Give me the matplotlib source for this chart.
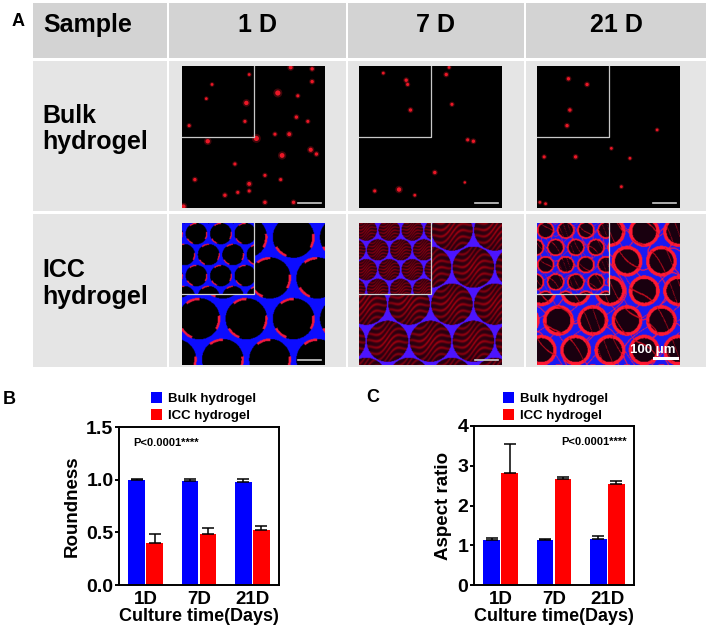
import numpy as np
import matplotlib
matplotlib.use("Agg")
import matplotlib.pyplot as plt
from matplotlib.patches import Rectangle

plt.rcParams['font.family'] = ['Liberation Sans', 'DejaVu Sans']
plt.rcParams['font.weight'] = 'bold'
plt.rcParams['axes.labelweight'] = 'bold'

W, H = 706, 633

# ---- data ----
days = ["1D", "7D", "21D"]
col_titles = ["1 D", "7 D", "21 D"]
row_titles = ["Bulk\nhydrogel", "ICC\nhydrogel"]
series = ["Bulk hydrogel", "ICC hydrogel"]

round_bulk = [1.00, 0.99, 0.98]
round_bulk_err = [0.005, 0.012, 0.03]
round_icc = [0.40, 0.485, 0.52]
round_icc_err = [0.085, 0.057, 0.04]

ar_bulk = [1.13, 1.14, 1.16]
ar_bulk_err = [0.04, 0.02, 0.07]
ar_icc = [2.83, 2.66, 2.53]
ar_icc_err = [0.71, 0.05, 0.09]

# red cell spots in the bulk hydrogel images (fractions of image width/height)
spots_1d_x = [0.67, 0.45, 0.52, 0.18, 0.70, 0.91, 0.91, 0.81, 0.80, 0.88, 0.75, 0.65, 0.90, 0.94,
              0.47, 0.37, 0.58, 0.69, 0.39, 0.30, 0.09, 0.58, 0.78, 0.47, 0.21, 0.44, 0.17, 0.47,
              0.05, 0.76, 0.01]
spots_1d_y = [0.81, 0.74, 0.49, 0.47, 0.37, 0.98, 0.89, 0.79, 0.64, 0.61, 0.52, 0.52, 0.41, 0.38,
              0.17, 0.31, 0.23, 0.20, 0.11, 0.09, 0.20, 0.04, 0.04, 0.12, 0.87, 0.61, 0.77, 0.94,
              0.58, 0.99, 0.01]
spots_1d_s = [14, 10, 14, 10, 12, 6, 6, 5, 6, 5, 8, 5, 9, 6, 8, 5, 5, 5, 5, 6, 6, 6, 6, 5, 4, 5,
              4, 4, 5, 8, 10]
spots_7d_x = [0.33, 0.34, 0.61, 0.63, 0.36, 0.65, 0.17, 0.76, 0.80, 0.53, 0.28, 0.11, 0.39, 0.74]
spots_7d_y = [0.90, 0.87, 0.94, 0.99, 0.69, 0.73, 0.95, 0.48, 0.47, 0.25, 0.13, 0.12, 0.09, 0.18]
spots_7d_s = [6, 5, 6, 4, 6, 5, 4, 5, 6, 6, 10, 5, 4, 3]
spots_21d_x = [0.22, 0.35, 0.23, 0.21, 0.84, 0.27, 0.52, 0.65, 0.05, 0.59, 0.02, 0.06]
spots_21d_y = [0.91, 0.87, 0.69, 0.58, 0.55, 0.36, 0.42, 0.35, 0.36, 0.15, 0.04, 0.03]
spots_21d_s = [6, 6, 6, 6, 4, 6, 4, 4, 5, 4, 4, 4]

fig = plt.figure(figsize=(W / 100, H / 100), dpi=100)


def px_axes(x0, y0, x1, y1):
    return fig.add_axes([x0 / W, 1 - y1 / H, (x1 - x0) / W, (y1 - y0) / H])


# ---- panel A: table of images ----
bg = fig.add_axes([0, 0, 1, 1])
bg.set_xlim(0, W)
bg.set_ylim(H, 0)
bg.axis('off')

col_x = [(33, 167), (169, 346), (348, 524), (526, 706)]
row_y = [(3, 58), (61, 211), (214, 367)]
for r, (y0, y1) in enumerate(row_y):
    for (x0, x1) in col_x:
        bg.add_patch(Rectangle((x0, y0), x1 - x0, y1 - y0,
                               color='#d3d3d3' if r == 0 else '#e5e5e5', lw=0))

bg.text(18, 22, "A", fontsize=13, ha='center', va='center')
bg.text(43, 25, "Sample", fontsize=18, ha='left', va='center')
for (x0, x1), t in zip(col_x[1:], col_titles):
    bg.text((x0 + x1) / 2, 25, t, fontsize=18, ha='center', va='center')
for (y0, y1), t in zip(row_y[1:], row_titles):
    bg.text(42, (y0 + y1) / 2 - 7, t, fontsize=18, ha='left', va='center',
            linespacing=1.15)


def lattice(n, d, ox, oy):
    u = (np.arange(n) + 0.5) / n
    U, V = np.meshgrid(u, u)
    best = np.full(U.shape, 9.0)
    bdx = np.zeros(U.shape)
    bdy = np.zeros(U.shape)
    for j in range(-2, int(1 / (d * 0.87)) + 3):
        for i in range(-2, int(1 / d) + 3):
            cx = ox + i * d + (j % 2) * d / 2
            cy = oy + j * d * 0.87
            dx, dy = U - cx, V - cy
            dist = np.hypot(dx, dy)
            m = dist < best
            best[m] = dist[m]
            bdx[m] = dx[m]
            bdy[m] = dy[m]
    return U, V, best, bdx, bdy


def icc_image(stage, n=220, d=0.31, R=0.15, ox=0.1, oy=0.08):
    U, V, dist, dx, dy = lattice(n, d, ox, oy)
    img = np.zeros((n, n, 3))
    out = dist > R
    inside = ~out
    if stage == 0:
        img[out] = [0.05, 0.05, 1.0]
        ring = (dist > R - 0.014) & (dist <= R + 0.003) & (np.sin(3 * np.arctan2(dy, dx) + 1) > 0.5)
        img[ring] = [0.95, 0.1, 0.25]
    elif stage == 1:
        img[out] = [0.3, 0.08, 1.0]
        s = np.sin((dx * 0.6 + dy) * 70 + 2 * np.sin(dx * 30)) ** 4
        img[inside, 0] = (0.22 + 0.5 * s[inside]) * (1 - dist[inside] / R * 0.35)
        img[inside, 2] = 0.06
    else:
        img[out] = [0.1, 0.1, 0.95]
        img[inside] = [0.1, 0.0, 0.06]
        ring = (dist > R - 0.016) & (dist <= R + 0.008)
        img[ring] = [1.0, 0.1, 0.2]
        thread = (np.abs(np.sin(22 * (U + 0.45 * V) + 3 * np.sin(9 * V))) < 0.1) | \
                 (np.abs(np.sin(18 * (V - 0.3 * U) + 2 * np.cos(13 * U))) < 0.08)
        img[thread & out] = [0.9, 0.1, 0.35]
        fib = np.abs(np.sin(30 * (U - 0.6 * V) + 2 * np.cos(11 * U))) < 0.1
        img[fib & inside] = [0.8, 0.05, 0.12]
    return img


img_x = [182, 359, 537]
img_w = 143
bulk_y = (66, 208)
icc_y = (223, 365)
spots = [(spots_1d_x, spots_1d_y, spots_1d_s),
         (spots_7d_x, spots_7d_y, spots_7d_s),
         (spots_21d_x, spots_21d_y, spots_21d_s)]
icc_params = [dict(d=0.33, R=0.145, ox=0.12, oy=0.1),
              dict(d=0.30, R=0.145, ox=0.05, oy=0.05),
              dict(d=0.24, R=0.1, ox=0.03, oy=0.06)]
inset_params = [dict(d=0.34, R=0.15, ox=0.2, oy=0.15),
                dict(d=0.32, R=0.15, ox=0.1, oy=0.1),
                dict(d=0.28, R=0.115, ox=0.12, oy=0.1)]

for k in range(3):
    # bulk hydrogel
    ax = px_axes(img_x[k], bulk_y[0], img_x[k] + img_w, bulk_y[1])
    ax.set_facecolor('black')
    sx, sy, ss = spots[k]
    ax.scatter(sx, sy, s=ss, color='#ff1a2a', edgecolors='none', alpha=0.9)
    ax.scatter(sx, sy, s=np.array(ss) * 3, color='#ff1a2a', edgecolors='none', alpha=0.25)
    ax.set_xlim(0, 1)
    ax.set_ylim(0, 1)
    ax.plot([0, 0.5, 0.5], [0.5, 0.5, 1], color='#c8c8c8', lw=0.9)
    ax.plot([0.81, 0.97], [0.035, 0.035], color='#cccccc', lw=1.2)
    ax.set_xticks([])
    ax.set_yticks([])
    for sp in ax.spines.values():
        sp.set_visible(False)

    # ICC hydrogel
    ax = px_axes(img_x[k], icc_y[0], img_x[k] + img_w, icc_y[1])
    ax.imshow(icc_image(k, **icc_params[k]), extent=[0, 1, 0, 1], aspect='auto',
              interpolation='bilinear', zorder=1)
    ax.imshow(icc_image(k, n=120, **inset_params[k]), extent=[0, 0.5, 0.5, 1], aspect='auto',
              interpolation='bilinear', zorder=2)
    ax.set_xlim(0, 1)
    ax.set_ylim(0, 1)
    ax.plot([0, 0.5, 0.5], [0.5, 0.5, 1], color='#d0d0d0', lw=0.9, zorder=3)
    if k < 2:
        ax.plot([0.81, 0.97], [0.035, 0.035], color='#cccccc', lw=1.2, zorder=3)
    else:
        ax.plot([0.82, 0.98], [0.05, 0.05], color='white', lw=2.2, zorder=3)
        ax.text(0.81, 0.105, "100 μm", color='white', fontsize=9.5, ha='center',
                va='center', zorder=3)
    ax.set_xticks([])
    ax.set_yticks([])
    for sp in ax.spines.values():
        sp.set_visible(False)


# ---- panels B and C: bar charts ----
def bar_panel(rect, bulk, bulk_err, icc, icc_err, ylim, yticks, ylabel, fmt,
              ptext_xy, letter_xy, letter, leg_xy):
    ax = px_axes(*rect)
    x = np.arange(len(days))
    w = 0.31
    off = 0.17
    ekw = dict(ecolor='black', elinewidth=1.1, capthick=1.1)
    ax.bar(x - off, bulk, w, color='#0000ff', label=series[0],
           yerr=[np.zeros(3), bulk_err], capsize=4.5, error_kw=ekw)
    ax.bar(x + off, icc, w, color='#ff0000', label=series[1],
           yerr=[np.zeros(3), icc_err], capsize=4.5, error_kw=ekw)
    ax.set_xlim(-0.5, 2.5)
    ax.set_ylim(*ylim)
    ax.set_yticks(yticks)
    ax.set_yticklabels([fmt.format(v) for v in yticks])
    ax.set_xticks(x)
    ax.set_xticklabels(days)
    ax.tick_params(axis='x', length=0, pad=4, labelsize=13.5)
    ax.tick_params(axis='y', length=3, width=1.4, pad=1, labelsize=14)
    for sp in ax.spines.values():
        sp.set_linewidth(1.4)
    ax.set_ylabel(ylabel, fontsize=13.5, labelpad=4)
    ax.set_xlabel("Culture time(Days)", fontsize=13, labelpad=0.5)
    ax.text(ptext_xy[0], ptext_xy[1], "P<0.0001****", transform=ax.transAxes,
            fontsize=8, ha='left', va='center')
    fig.text(letter_xy[0] / W, 1 - letter_xy[1] / H, letter, fontsize=13,
             ha='center', va='center')
    ax.legend(loc='center left',
              bbox_to_anchor=((leg_xy[0] - rect[0]) / (rect[2] - rect[0]),
                              (rect[3] - leg_xy[1]) / (rect[3] - rect[1])),
              frameon=False, fontsize=9.5, handlelength=0.8, handleheight=0.9,
              handletextpad=0.5, labelspacing=0.25, borderpad=0, borderaxespad=0)
    return ax


bar_panel((119, 427, 279, 585), round_bulk, round_bulk_err, round_icc, round_icc_err,
          (0, 1.5), [0.0, 0.5, 1.0, 1.5], "Roundness", "{:.1f}",
          (0.09, 0.9), (9, 400), "B", (151, 407))
bar_panel((474, 426, 634, 585), ar_bulk, ar_bulk_err, ar_icc, ar_icc_err,
          (0, 4), [0, 1, 2, 3, 4], "Aspect ratio", "{:.0f}",
          (0.545, 0.9), (373, 398), "C", (503, 407))

fig.savefig("out.png", dpi=100)
